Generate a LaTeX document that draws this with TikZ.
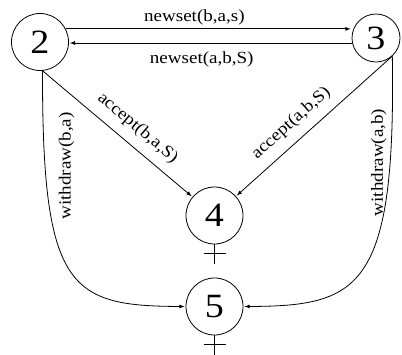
\documentclass[tikz,border=0pt]{standalone}
\usepackage{fontspec}
\setmainfont{Liberation Serif}[FakeStretch=1.12]
\usetikzlibrary{arrows}

\begin{document}
\begin{tikzpicture}[x=1pt,y=-1pt,>=latex,shorten >=1pt,line width=0.8pt]
    \tikzstyle{vertex}=[circle,draw=black,fill=white,minimum size=57pt,inner sep=0pt,font=\fontsize{34}{34}\selectfont]
    \tikzstyle{edgelabel}=[font=\fontsize{17}{17}\selectfont]
    \useasboundingbox (0,0) rectangle (402,354);

    \foreach \num/\x/\y in {2/40/42, 4/214.5/215.5, 5/214.5/306.5}
            \node[vertex] (V-\num) at (\x,\y) {\num};
    \node[vertex,minimum size=48pt] (V-3) at (376,38) {3};

        % crosses below the end states
        \foreach \num in {4,5} {
            \draw[shorten >=0pt] (V-\num.south) -- ++(0,20) coordinate (T-\num);
            \draw[shorten >=0pt] ([xshift=-11pt,yshift=-9pt]V-\num.south) -- ([xshift=11pt,yshift=-9pt]V-\num.south);
        }

        \draw[->] (V-2.27) -- node[edgelabel,above,pos=0.45] {newset(b,a,s)} (V-3.west |- V-2.27);
        \draw[->] (V-3.west |- V-2.-2) -- node[edgelabel,below=5pt,pos=0.53] {newset(a,b,S)} (V-2.-2);

        \draw[->] (V-2.-85) -- node[edgelabel,sloped,above=6pt,pos=0.56] {accept(b,a,S)} (V-4);
        \draw[->] (V-3.-50) -- node[edgelabel,sloped,above=6pt,pos=0.57] {accept(a,b,S)} (V-4);

        \draw[->] (V-2.-85) .. controls (42,290) and (70,306) .. node[edgelabel,pos=0.17,rotate=90,below=10pt] {withdraw(b,a)} (V-5.west);
        \draw[->] (V-3.-48) .. controls (396,290) and (359,306) .. node[edgelabel,pos=0.18,rotate=90,above] {withdraw(a,b)} (V-5.east);
\end{tikzpicture}
\end{document}
